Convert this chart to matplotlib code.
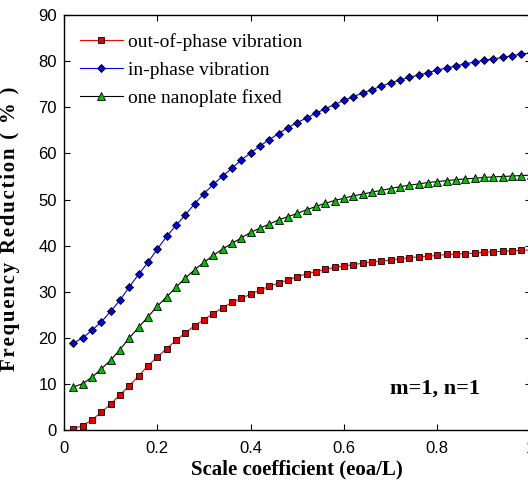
import matplotlib

matplotlib.use("Agg")
import matplotlib.pyplot as plt
import numpy as np

# scale coefficient e0a/L, 0.02 ... 1.00
x = np.round(np.arange(1, 51) * 0.02, 2)

out_of_phase = [0.3, 1.0, 2.3, 3.9, 5.7, 7.7, 9.7, 11.8, 14.0, 15.9,
                17.7, 19.5, 21.1, 22.7, 24.0, 25.3, 26.6, 27.7, 28.6, 29.5,
                30.4, 31.2, 31.9, 32.6, 33.3, 33.9, 34.4, 34.9, 35.3, 35.6,
                35.9, 36.2, 36.5, 36.7, 36.9, 37.2, 37.4, 37.6, 37.7, 37.9,
                38.1, 38.2, 38.3, 38.4, 38.6, 38.7, 38.8, 38.9, 39.0, 39.1]
in_phase = [18.9, 20.0, 21.7, 23.5, 25.8, 28.2, 31.1, 33.8, 36.4, 39.3,
            42.0, 44.4, 46.7, 49.1, 51.3, 53.3, 55.1, 56.8, 58.6, 60.1,
            61.6, 63.0, 64.3, 65.6, 66.7, 67.7, 68.7, 69.7, 70.6, 71.5,
            72.3, 73.1, 73.8, 74.6, 75.3, 75.9, 76.5, 77.0, 77.5, 78.1,
            78.5, 79.0, 79.4, 79.8, 80.2, 80.5, 80.8, 81.2, 81.5, 81.8]
one_fixed = [9.4, 10.1, 11.5, 13.3, 15.2, 17.5, 20.0, 22.3, 24.6, 26.9,
             28.9, 31.0, 33.0, 34.8, 36.4, 37.9, 39.3, 40.5, 41.7, 42.9,
             43.8, 44.7, 45.6, 46.3, 47.0, 47.8, 48.5, 49.2, 49.8, 50.3,
             50.8, 51.2, 51.6, 52.0, 52.4, 52.8, 53.1, 53.4, 53.7, 53.9,
             54.1, 54.3, 54.5, 54.6, 54.8, 54.9, 55.0, 55.1, 55.2, 55.3]

xticks = [0, 0.2, 0.4, 0.6, 0.8, 1]
yticks = list(range(0, 91, 10))

serif = ["Liberation Serif", "DejaVu Serif"]
sans = ["Liberation Sans", "DejaVu Sans"]

fig = plt.figure(figsize=(5.28, 4.86), dpi=100)
# right spine sits just past the image edge, as in the original crop
ax = fig.add_axes([64 / 528, 55.7 / 486, 466.6 / 528, 415.3 / 486])

ax.plot(x, out_of_phase, color="red", lw=0.8, marker="s", ms=4.2,
        mfc="#e00000", mec="black", mew=0.6, label="out-of-phase vibration")
ax.plot(x, in_phase, color="blue", lw=0.8, marker="D", ms=4.2,
        mfc="#0000e0", mec="black", mew=0.6, label="in-phase vibration")
ax.plot(x, one_fixed, color="black", lw=0.8, marker="^", ms=5.2,
        mfc="#00c000", mec="black", mew=0.6, label="one nanoplate fixed")

ax.set_xlim(0, 1)
ax.set_ylim(0, 90)
ax.set_xticks(xticks)
ax.set_xticklabels([f"{t:g}" for t in xticks], family=sans, fontsize=12)
ax.set_yticks(yticks)
ax.set_yticklabels([str(t) for t in yticks], family=sans, fontsize=12)
ax.tick_params(direction="in", top=True, right=True, length=4, width=0.8, pad=5)
ax.tick_params(axis="x", pad=8)
for s in ax.spines.values():
    s.set_linewidth(1.0)

ax.set_xlabel("Scale coefficient (eoa/L)", family=serif, fontweight="bold",
              fontsize=15, labelpad=2)
# the original label is letter-spaced
ylab = "\u200a".join("Frequency Reduction ( % )")
ax.set_ylabel(ylab, family=serif, fontweight="bold", fontsize=15, labelpad=3)
ax.yaxis.set_label_coords(-0.095, 0.485)

ax.text(0.699, 8.95, "m=1, n=1", family=serif, fontweight="bold", fontsize=16,
        va="center", ha="left")

ax.legend(loc="upper left", frameon=False, prop={"family": serif, "size": 14},
          handlelength=2.2, handletextpad=0.26, labelspacing=0.52,
          borderaxespad=0, bbox_to_anchor=(0.0176, 0.975))

fig.savefig("out.png", dpi=100)
